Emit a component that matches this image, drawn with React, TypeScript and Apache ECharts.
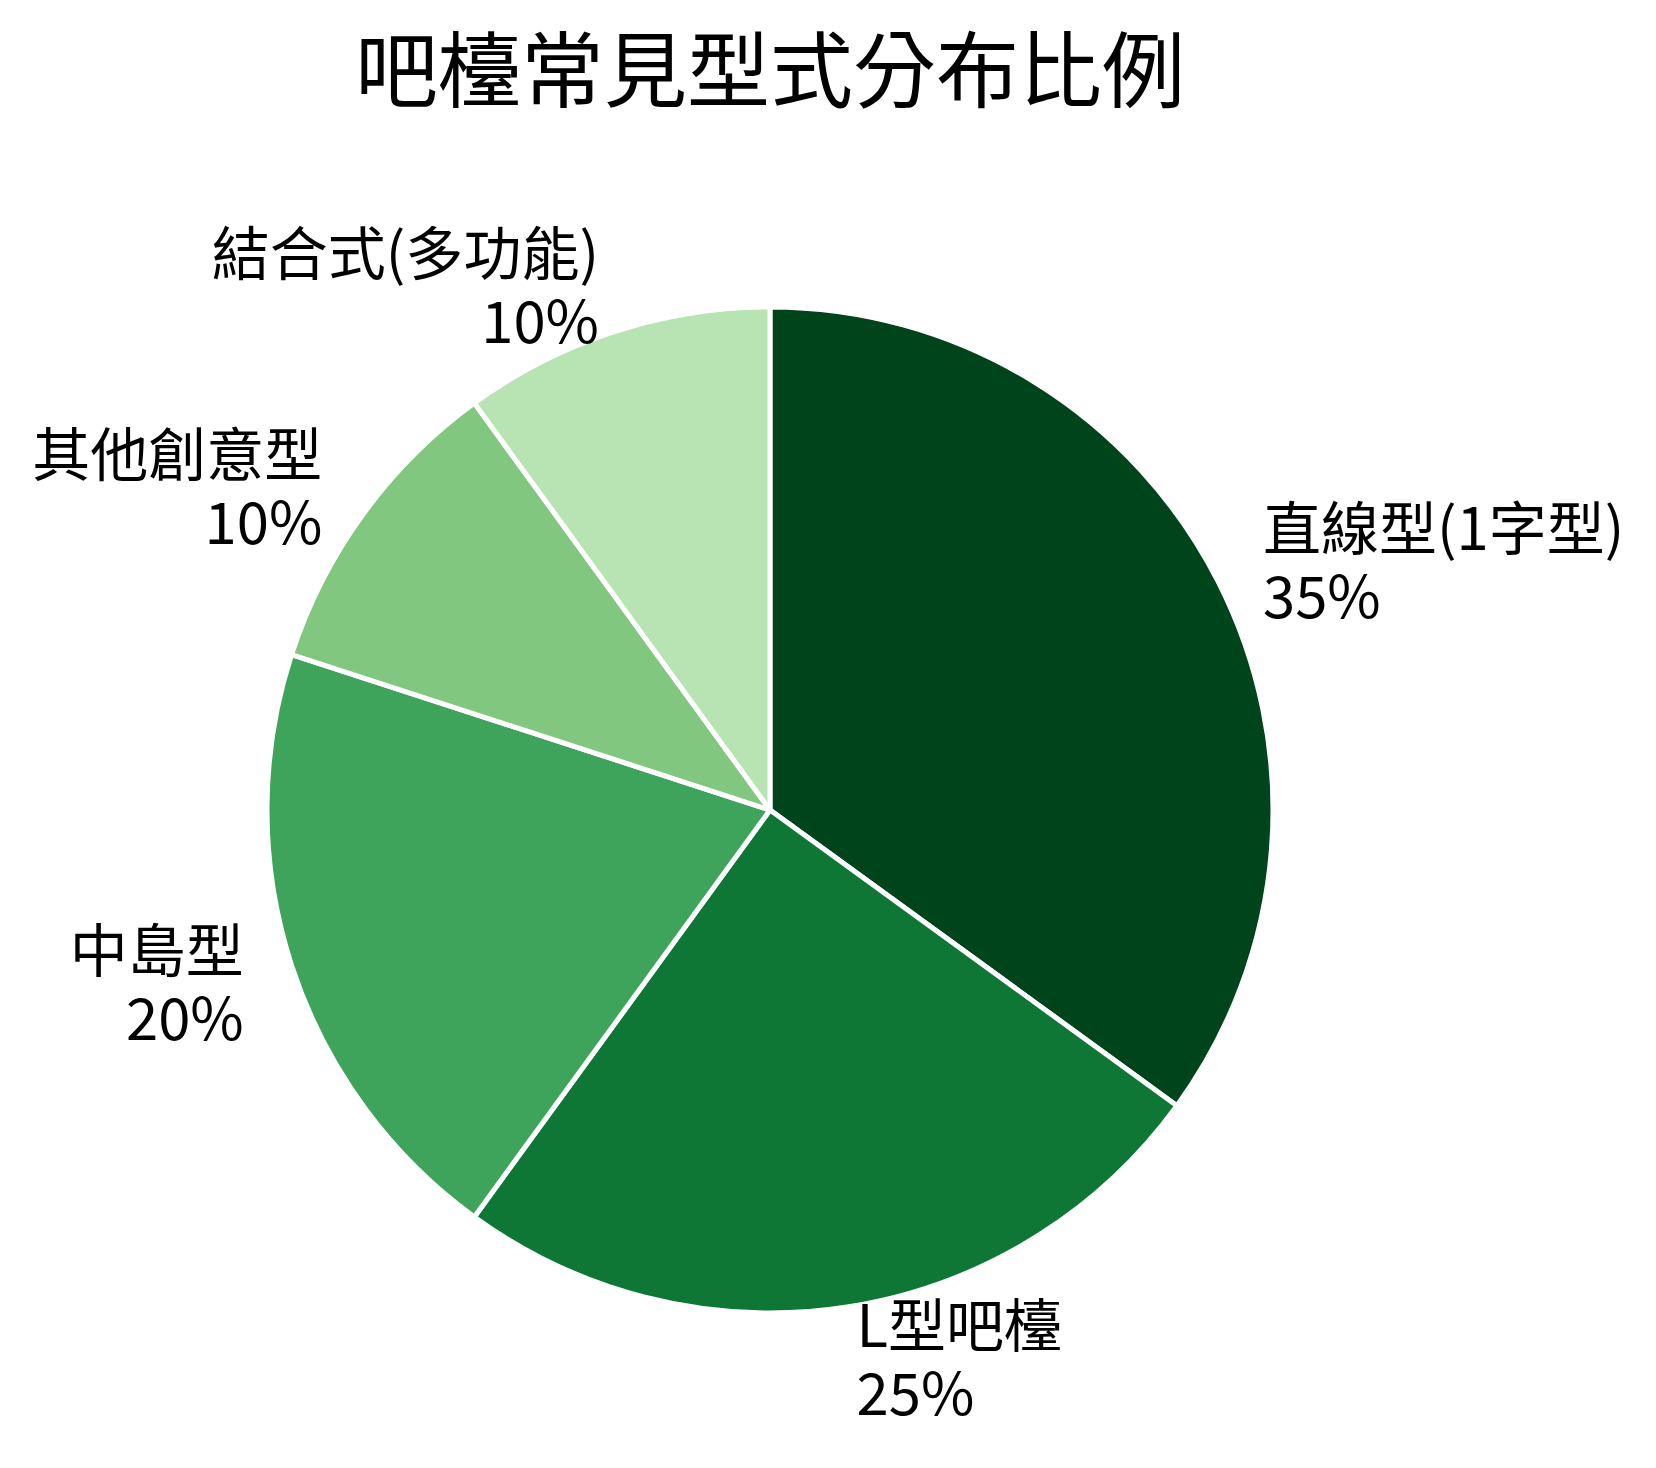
import React, { useEffect, useRef } from 'react';
import * as echarts from 'echarts';

const title = '吧檯常見型式分布比例';
const categories = ['直線型(1字型)', 'L型吧檯', '中島型', '其他創意型', '結合式(多功能)'];
const shares = [35, 25, 20, 10, 10];
const sliceColors = ['#00441b', '#0e7735', '#3fa45b', '#81c77f', '#b8e3b2'];

const FONT = '"Noto Sans CJK TC", "Noto Sans CJK SC", sans-serif';

export default function App() {
    const chartRef = useRef<HTMLDivElement>(null);

    useEffect(() => {
        const chart = echarts.init(chartRef.current!, undefined, { renderer: 'svg' });
        const radius = 503;

        chart.setOption({
            animation: false,
            backgroundColor: '#ffffff',
            color: sliceColors,
            title: {
                text: title,
                left: 770,
                top: 23,
                textAlign: 'center',
                padding: 0,
                textStyle: {
                    color: '#000000',
                    fontSize: 83,
                    lineHeight: 83,
                    fontWeight: 'normal',
                    fontFamily: FONT,
                },
            },
            series: [
                {
                    type: 'pie',
                    center: [770, 810],
                    radius: radius,
                    startAngle: 90,
                    clockwise: true,
                    avoidLabelOverlap: false,
                    silent: true,
                    itemStyle: {
                        borderColor: '#ffffff',
                        borderWidth: 5,
                    },
                    label: {
                        show: true,
                        position: 'outside',
                        distanceToLabelLine: 0,
                        color: '#000000',
                        fontSize: 58,
                        lineHeight: 68,
                        padding: [0, 0, 12, 0],
                        fontFamily: FONT,
                        formatter: (p: any) => `${p.name}\n${p.value}%`,
                    },
                    labelLine: {
                        show: false,
                        length: radius * 0.1,
                        length2: 0,
                    },
                    emphasis: { disabled: true },
                    data: categories.map((name, i) => ({ name, value: shares[i] })),
                },
            ],
        });

        return () => {
            chart.dispose();
        };
    }, []);

    return (
        <div
            ref={chartRef}
            style={{ position: 'absolute', left: 0, top: 0, width: 1656, height: 1468 }}
        />
    );
}
